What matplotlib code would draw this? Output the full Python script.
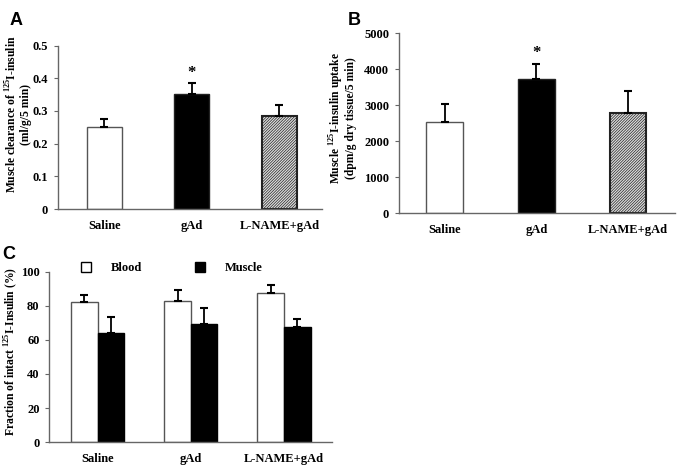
import matplotlib
matplotlib.use('Agg')
from matplotlib import pyplot as plt
from matplotlib.patches import Patch
import numpy as np

plt.rcParams['font.family'] = 'Liberation Serif'
plt.rcParams['font.weight'] = 'bold'
plt.rcParams['axes.labelweight'] = 'bold'
plt.rcParams['mathtext.fontset'] = 'custom'
plt.rcParams['mathtext.rm'] = 'Liberation Serif:bold'
plt.rcParams['mathtext.bf'] = 'Liberation Serif:bold'
plt.rcParams['hatch.linewidth'] = 0.5
plt.rcParams['hatch.color'] = '#555555'

groups = ['Saline', 'gAd', 'L-NAME+gAd']

# panel A - muscle clearance
clear_mean = [0.252, 0.351, 0.284]
clear_err = [0.022, 0.034, 0.034]

# panel B - muscle uptake
uptake_mean = [2530, 3720, 2795]
uptake_err = [510, 420, 610]

# panel C - fraction intact
blood_mean = [82.4, 83.0, 87.7]
blood_err = [3.9, 6.3, 4.5]
muscle_mean = [64.2, 69.3, 67.8]
muscle_err = [9.1, 9.2, 4.7]

spine_col = '#666666'
fs = 9
lfs = 8.4


def style_axes(ax):
    for s in ['top', 'right']:
        ax.spines[s].set_visible(False)
    for s in ['left', 'bottom']:
        ax.spines[s].set_color(spine_col)
        ax.spines[s].set_linewidth(1.0)
    ax.tick_params(axis='y', direction='out', length=3, color=spine_col, labelsize=fs, pad=4)
    ax.tick_params(axis='x', length=0, labelsize=fs, pad=8)


def single_panel(ax, means, errs, ylim, yticks, ytl, ylabel, xlim, lab_xy):
    x = np.arange(len(groups))
    fills = ['white', 'black', '#dddddd']
    hatches = [None, None, '////////////']
    for i in range(len(groups)):
        ax.bar(x[i], means[i], width=0.4, color=fills[i], edgecolor='#222222' if i != 0 else '#555555',
               linewidth=1.5 if i == 2 else 1.0, hatch=hatches[i], zorder=2)
        ax.errorbar(x[i], means[i], yerr=[[0], [errs[i]]], fmt='none', ecolor='black',
                    elinewidth=1.3, capsize=3, capthick=1.5, zorder=3)
    ax.text(x[1], means[1] + errs[1] + (ylim[1] - ylim[0]) * 0.015, '*', ha='center', va='bottom',
            fontsize=12, fontweight='bold')
    ax.set_xlim(xlim)
    ax.set_ylim(ylim)
    ax.set_yticks(yticks)
    ax.set_yticklabels(ytl)
    ax.set_xticks(x)
    ax.set_xticklabels(groups)
    ax.set_ylabel(ylabel, fontsize=lfs, linespacing=0.95)
    ax.yaxis.set_label_coords(*lab_xy)
    style_axes(ax)


fig = plt.figure(figsize=(6.9, 4.74), dpi=100)

axA = fig.add_axes([0.084, 0.559, 0.383, 0.345])
single_panel(axA, clear_mean, clear_err, (0, 0.5), [0, 0.1, 0.2, 0.3, 0.4, 0.5],
             ['0', '0.1', '0.2', '0.3', '0.4', '0.5'],
             'Muscle clearance of $^{125}$I-insulin\n(ml/g/5 min)', (-0.53, 2.49), (-0.1, 0.58))

axB = fig.add_axes([0.578, 0.55, 0.40, 0.38])
single_panel(axB, uptake_mean, uptake_err, (0, 5000), [0, 1000, 2000, 3000, 4000, 5000],
             ['0', '1000', '2000', '3000', '4000', '5000'],
             'Muscle $^{125}$I-insulin uptake\n(dpm/g dry tissue/5 min)', (-0.5, 2.51), (-0.15, 0.53))

axC = fig.add_axes([0.0715, 0.067, 0.4095, 0.36])
xc = np.arange(len(groups))
w = 0.286
axC.bar(xc - w / 2, blood_mean, width=w, color='white', edgecolor='#555555', linewidth=1.0, zorder=2)
axC.bar(xc + w / 2, muscle_mean, width=w, color='black', edgecolor='black', linewidth=1.0, zorder=2)
axC.errorbar(xc - w / 2, blood_mean, yerr=[np.zeros(3), blood_err], fmt='none', ecolor='black',
             elinewidth=1.3, capsize=3, capthick=1.5, zorder=3)
axC.errorbar(xc + w / 2, muscle_mean, yerr=[np.zeros(3), muscle_err], fmt='none', ecolor='black',
             elinewidth=1.3, capsize=3, capthick=1.5, zorder=3)
axC.set_xlim(-0.52, 2.515)
axC.set_ylim(0, 100)
axC.set_yticks([0, 20, 40, 60, 80, 100])
axC.set_xticks(xc)
axC.set_xticklabels(groups)
axC.set_ylabel('Fraction of intact $^{125}$I-Insulin (%)', fontsize=lfs)
axC.yaxis.set_label_coords(-0.105, 0.53)
style_axes(axC)
handles = [Patch(facecolor='white', edgecolor='black', linewidth=1.0),
           Patch(facecolor='black', edgecolor='black')]
axC.legend(handles, ['Blood', 'Muscle'], ncol=2, frameon=False, fontsize=fs,
           loc='center left', bbox_to_anchor=(0.095, 1.02), handlelength=0.8, handleheight=0.8,
           handletextpad=1.6, columnspacing=4.2, borderaxespad=0)

for lab, px, py in [('A', 10, 12), ('B', 348, 12), ('C', 2, 246)]:
    fig.text(px / 690, 1 - py / 474, lab, fontsize=13, fontweight='bold',
             family='Liberation Sans', va='top', ha='left')

fig.savefig('out.png', dpi=100)
